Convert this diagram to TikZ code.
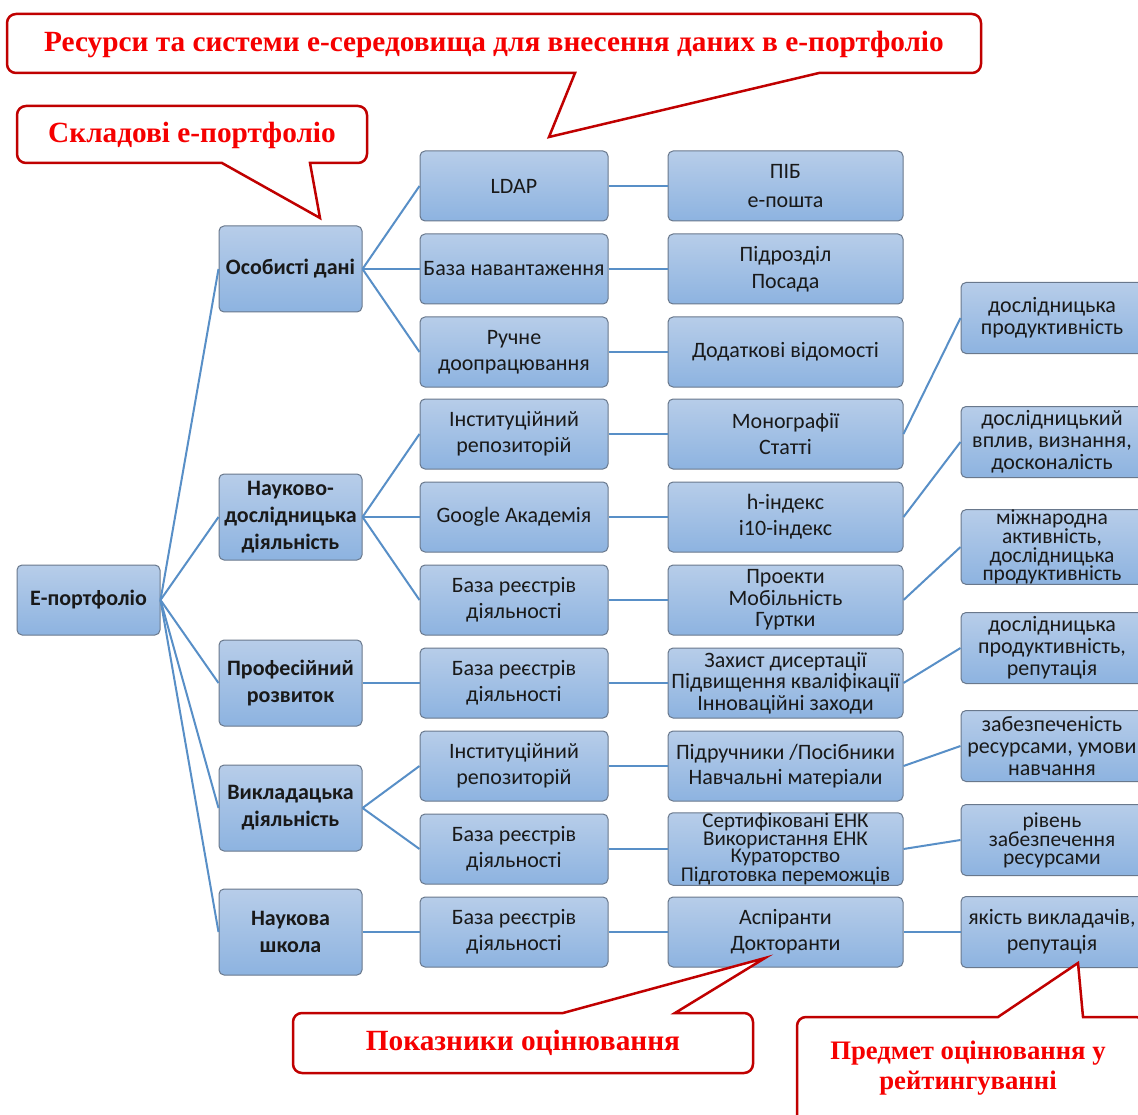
\documentclass[tikz,border=0pt]{standalone}
\usepackage{fontspec}
\setmainfont{Carlito}
\newfontfamily\calloutfont{Liberation Serif}
\definecolor{boxtop}{RGB}{183,205,233}
\definecolor{boxbot}{RGB}{141,179,224}
\definecolor{boxborder}{RGB}{105,120,140}
\definecolor{linkcol}{RGB}{88,143,199}
\definecolor{calloutborder}{RGB}{192,0,0}
\definecolor{calloutred}{RGB}{245,0,0}
\tikzset{
  box/.style={draw=boxborder, line width=1pt, rounded corners=5pt, top color=boxtop, bottom color=boxbot,
    align=center, inner sep=0pt, text=black!90, font=\fontsize{22}{26}\selectfont, minimum height=70pt},
  lone/.style={box, minimum width=143pt, minimum height=86pt, font=\bfseries\fontsize{22}{27}\selectfont},
  ltwo/.style={box, minimum width=188pt},
  lthree/.style={box, minimum width=235pt},
  lfour/.style={box, minimum width=182pt, minimum height=71pt, font=\fontsize{22}{22}\selectfont},
  link/.style={draw=linkcol, line width=2pt},
  callout/.style={draw=calloutborder, line width=2.5pt, fill=white, line join=miter},
  callouttext/.style={font=\calloutfont\bfseries\fontsize{29.3}{30}\selectfont, text=calloutred, align=center}
}
\begin{document}
\begin{tikzpicture}[x=1pt,y=-1pt]
\useasboundingbox[fill=white] (0,0) rectangle (1138,1115);

% root
\node[box, minimum width=143pt, font=\bfseries\fontsize{22}{26}\selectfont] (ep) at (88.5,600) {Е-портфоліо};

% level 1
\node[lone] (a1) at (290.5,269) {Особисті дані};
\node[lone] (a2) at (290.5,517) {Науково-\\дослідницька\\діяльність};
\node[lone] (a3) at (290.5,683) {Професійний\\розвиток};
\node[lone] (a4) at (290.5,808) {Викладацька\\діяльність};
\node[lone] (a5) at (290.5,932) {Наукова\\школа};

% level 2
\node[ltwo] (b1) at (514,186) {LDAP};
\node[ltwo] (b2) at (514,269) {База навантаження};
\node[ltwo] (b3) at (514,352) {Ручне\\доопрацювання};
\node[ltwo] (b4) at (514,434) {Інституційний\\репозиторій};
\node[ltwo] (b5) at (514,517) {Google Академія};
\node[ltwo] (b6) at (514,600) {База реєстрів\\діяльності};
\node[ltwo] (b7) at (514,683) {База реєстрів\\діяльності};
\node[ltwo] (b8) at (514,766) {Інституційний\\репозиторій};
\node[ltwo] (b9) at (514,849) {База реєстрів\\діяльності};
\node[ltwo] (b10) at (514,932) {База реєстрів\\діяльності};

% level 3
\node[lthree, font=\fontsize{22}{29}\selectfont] (c1) at (785.5,186) {ПІБ\\е-пошта};
\node[lthree, font=\fontsize{22}{27}\selectfont] (c2) at (785.5,269) {Підрозділ\\Посада};
\node[lthree] (c3) at (785.5,352) {Додаткові відомості};
\node[lthree] (c4) at (785.5,434) {Монографії\\Статті};
\node[lthree] (c5) at (785.5,517) {h-індекс\\i10-індекс};
\node[lthree, font=\fontsize{22}{21.5}\selectfont] (c6) at (785.5,600) {Проекти\\Мобільність\\Гуртки};
\node[lthree, font=\fontsize{22}{21.5}\selectfont] (c7) at (785.5,683) {Захист дисертації\\Підвищення кваліфікації\\Інноваційні заходи};
\node[lthree, font=\fontsize{22}{25}\selectfont] (c8) at (785.5,766) {Підручники /Посібники\\Навчальні матеріали};
\node[lthree, font=\fontsize{21}{16.8}\selectfont] (c9) at (785.5,849) {Сертифіковані ЕНК\\Використання ЕНК\\Кураторство\\Підготовка переможців};
\node[lthree] (c10) at (785.5,932) {Аспіранти\\Докторанти};

% level 4
\node[lfour] (d1) at (1052,318) {дослідницька\\продуктивність};
\node[lfour] (d2) at (1052,442) {дослідницький\\вплив, визнання,\\досконалість};
\node[lfour, font=\fontsize{21.5}{18.8}\selectfont] (d3) at (1052,547) {міжнародна\\активність,\\дослідницька\\продуктивність};
\node[lfour] (d4) at (1052,648) {дослідницька\\продуктивність,\\репутація};
\node[lfour] (d5) at (1052,746) {забезпеченість\\ресурсами, умови\\навчання};
\node[lfour, font=\fontsize{21.5}{18}\selectfont] (d6) at (1052,840) {рівень\\забезпечення\\ресурсами};
\node[lfour, font=\fontsize{22}{26}\selectfont] (d7) at (1052,932) {якість викладачів,\\репутація};

% connectors
\foreach \t in {a1,a2,a3,a4,a5} \draw[link] (ep.east) -- (\t.west);
\foreach \s/\t in {a1/b1,a1/b2,a1/b3,a2/b4,a2/b5,a2/b6,a3/b7,a4/b8,a4/b9,a5/b10} \draw[link] (\s.east) -- (\t.west);
\foreach \i in {1,...,10} \draw[link] (b\i.east) -- (c\i.west);
\foreach \s/\t in {c4/d1,c5/d2,c6/d3,c7/d4,c8/d5,c9/d6,c10/d7} \draw[link] (\s.east) -- (\t.west);

% callouts
\draw[callout] (494,14) [rounded corners=9] -- (981,14) -- (981,73) -- (831,73) [sharp corners] -- (819,73) -- (549,137) -- (575,73) -- (563,73) [rounded corners=9] -- (7,73) -- (7,14) -- cycle;
\node[callouttext] (k1) at (494,45) {Ресурси та системи е-середовища для внесення даних в е-портфоліо};

\draw[callout] (192,106) [rounded corners=9] -- (367,106) -- (367,163) -- (322,163) [sharp corners] -- (310,163) -- (320,218) -- (222,163) -- (210,163) [rounded corners=9] -- (17,163) -- (17,106) -- cycle;
\node[callouttext] (k2) at (192,135) {Складові е-портфоліо};

\draw[callout] (293,1043) [rounded corners=9] -- (293,1013) -- (551,1013) [sharp corners] -- (563,1013) -- (765,958) -- (675,1013) -- (687,1013) [rounded corners=9] -- (753,1013) -- (753,1073) -- (293,1073) -- cycle;
\node[callouttext] (k3) at (523,1043) {Показники оцінювання};

\draw[callout] (797,1070) [rounded corners=9] -- (797,1017) -- (986,1017) [sharp corners] -- (998,1017) -- (1078,963) -- (1083,1017) -- (1095,1017) [rounded corners=9] -- (1145,1017) -- (1145,1125) -- (797,1125) -- cycle;
\node[callouttext, font=\calloutfont\bfseries\fontsize{26.7}{30}\selectfont] (k4) at (968,1068) {Предмет оцінювання у\\рейтингуванні};
\end{tikzpicture}
\end{document}
